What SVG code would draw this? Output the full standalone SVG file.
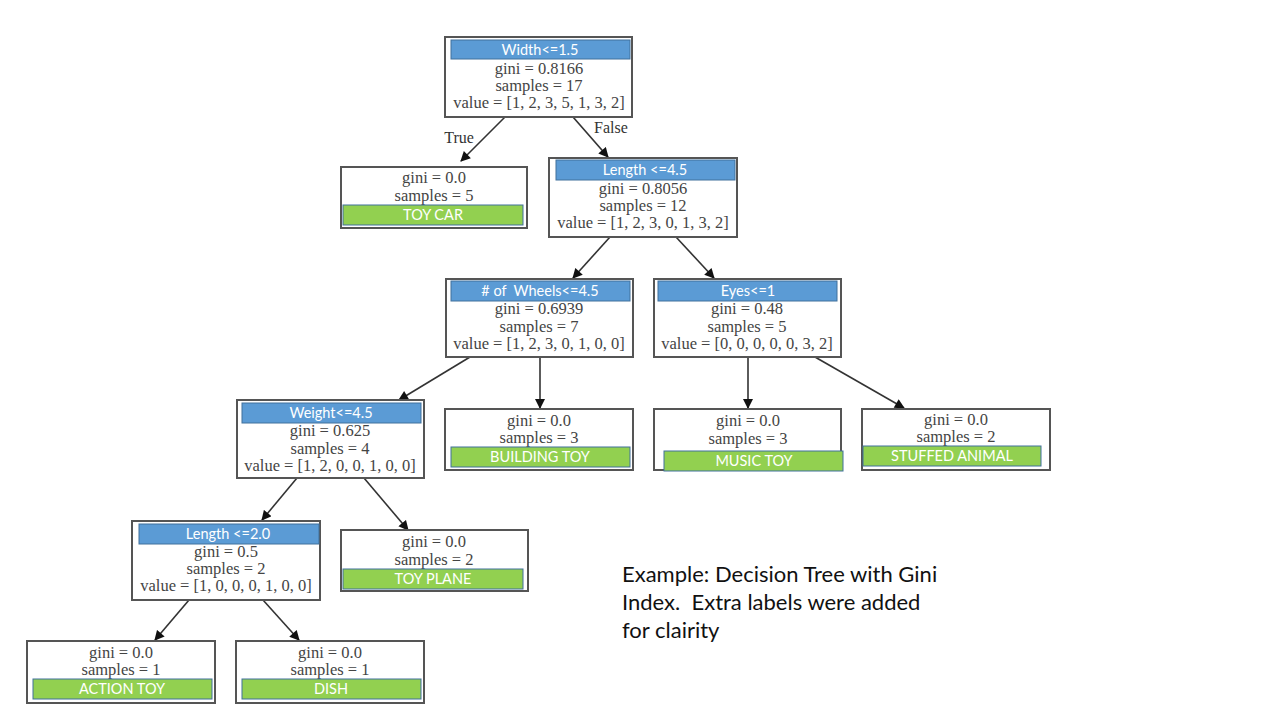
<svg xmlns="http://www.w3.org/2000/svg" width="1280" height="720" viewBox="0 0 1280 720">
<style>
.box{fill:#fff;stroke:#555;stroke-width:2}
.hdr{fill:#5b9bd5;stroke:#41719c;stroke-width:1}
.leaf{fill:#92d050;stroke:#41719c;stroke-width:1}
.t{font-family:"Liberation Serif",serif;font-size:16.5px;fill:#444;text-anchor:middle}
.h{font-family:Lato,"Open Sans",sans-serif;font-size:14.5px;fill:#fff;text-anchor:middle}
.lbl{font-family:"Liberation Serif",serif;font-size:16px;fill:#333;text-anchor:middle}
.cap{font-family:Lato,"Liberation Sans",sans-serif;font-size:22px;fill:#111;white-space:pre}
.e{stroke:#333;stroke-width:1.6;fill:none;marker-end:url(#ah)}
</style>
<defs>
<marker id="ah" viewBox="0 0 10 10" refX="9" refY="5" markerWidth="11" markerHeight="10" orient="auto" markerUnits="userSpaceOnUse">
<path d="M0,0 L10,5 L0,10 z" fill="#111"/>
</marker>
</defs>
<rect width="1280" height="720" fill="#fff"/>
<g id="edges">
<line class="e" x1="505" y1="117" x2="461" y2="161"/>
<line class="e" x1="573" y1="117" x2="608" y2="157"/>
<line class="e" x1="610" y1="237" x2="573" y2="278"/>
<line class="e" x1="676" y1="237" x2="714" y2="278"/>
<line class="e" x1="470" y1="357" x2="399" y2="400"/>
<line class="e" x1="540" y1="357" x2="540" y2="408"/>
<line class="e" x1="748" y1="357" x2="748" y2="408"/>
<line class="e" x1="815" y1="357" x2="904" y2="408"/>
<line class="e" x1="297" y1="478" x2="262" y2="520"/>
<line class="e" x1="364" y1="478" x2="408" y2="530"/>
<line class="e" x1="189" y1="600" x2="155" y2="640"/>
<line class="e" x1="263" y1="600" x2="299" y2="640"/>
<text class="lbl" x="459" y="143">True</text>
<text class="lbl" x="611" y="133">False</text>
</g>
<g id="root">
<rect class="box" x="445" y="37" width="187" height="80"/>
<rect class="hdr" x="451" y="40" width="179" height="19"/>
<text class="h" x="540" y="55">Width&lt;=1.5</text>
<text class="t" x="539" y="74">gini = 0.8166</text>
<text class="t" x="539" y="91">samples = 17</text>
<text class="t" x="539" y="108">value = [1, 2, 3, 5, 1, 3, 2]</text>
</g>
<g id="toycar">
<rect class="box" x="341" y="167" width="186" height="61"/>
<text class="t" x="434" y="183">gini = 0.0</text>
<text class="t" x="434" y="201">samples = 5</text>
<rect class="leaf" x="343" y="205" width="180" height="20"/>
<text class="h" x="433" y="220">TOY CAR</text>
</g>
<g id="length45">
<rect class="box" x="549" y="158" width="188" height="79"/>
<rect class="hdr" x="556" y="160" width="179" height="20"/>
<text class="h" x="645" y="175">Length &lt;=4.5</text>
<text class="t" x="643" y="194">gini = 0.8056</text>
<text class="t" x="643" y="211">samples = 12</text>
<text class="t" x="643" y="228">value = [1, 2, 3, 0, 1, 3, 2]</text>
</g>
<g id="wheels">
<rect class="box" x="446" y="279" width="187" height="78"/>
<rect class="hdr" x="451" y="281" width="179" height="20"/>
<text class="h" x="540" y="296" style="white-space:pre"># of  Wheels&lt;=4.5</text>
<text class="t" x="539" y="314">gini = 0.6939</text>
<text class="t" x="539" y="332">samples = 7</text>
<text class="t" x="539" y="349">value = [1, 2, 3, 0, 1, 0, 0]</text>
</g>
<g id="eyes">
<rect class="box" x="654" y="279" width="187" height="78"/>
<rect class="hdr" x="658" y="281" width="179" height="20"/>
<text class="h" x="748" y="296">Eyes&lt;=1</text>
<text class="t" x="747" y="314">gini = 0.48</text>
<text class="t" x="747" y="332">samples = 5</text>
<text class="t" x="747" y="349">value = [0, 0, 0, 0, 0, 3, 2]</text>
</g>
<g id="weight">
<rect class="box" x="237" y="400" width="187" height="78"/>
<rect class="hdr" x="242" y="403" width="179" height="20"/>
<text class="h" x="331" y="418">Weight&lt;=4.5</text>
<text class="t" x="330" y="436">gini = 0.625</text>
<text class="t" x="330" y="454">samples = 4</text>
<text class="t" x="330" y="471">value = [1, 2, 0, 0, 1, 0, 0]</text>
</g>
<g id="building">
<rect class="box" x="445" y="409" width="188" height="61"/>
<text class="t" x="539" y="426">gini = 0.0</text>
<text class="t" x="539" y="443">samples = 3</text>
<rect class="leaf" x="451" y="447" width="179" height="20"/>
<text class="h" x="540" y="462">BUILDING TOY</text>
</g>
<g id="music">
<rect class="box" x="654" y="409" width="187" height="61"/>
<text class="t" x="748" y="426">gini = 0.0</text>
<text class="t" x="748" y="444">samples = 3</text>
<rect class="leaf" x="664" y="451" width="179" height="20"/>
<text class="h" x="754" y="466">MUSIC TOY</text>
</g>
<g id="stuffed">
<rect class="box" x="862" y="409" width="188" height="61"/>
<text class="t" x="956" y="425">gini = 0.0</text>
<text class="t" x="956" y="442">samples = 2</text>
<rect class="leaf" x="863" y="446" width="178" height="20"/>
<text class="h" x="952" y="461">STUFFED ANIMAL</text>
</g>
<g id="length20">
<rect class="box" x="132" y="521" width="188" height="79"/>
<rect class="hdr" x="139" y="524" width="180" height="20"/>
<text class="h" x="228" y="539">Length &lt;=2.0</text>
<text class="t" x="226" y="557">gini = 0.5</text>
<text class="t" x="226" y="574">samples = 2</text>
<text class="t" x="226" y="591">value = [1, 0, 0, 0, 1, 0, 0]</text>
</g>
<g id="toyplane">
<rect class="box" x="341" y="530" width="187" height="61"/>
<text class="t" x="434" y="547">gini = 0.0</text>
<text class="t" x="434" y="565">samples = 2</text>
<rect class="leaf" x="343" y="569" width="180" height="20"/>
<text class="h" x="433" y="584">TOY PLANE</text>
</g>
<g id="action">
<rect class="box" x="27" y="641" width="188" height="62"/>
<text class="t" x="121" y="658">gini = 0.0</text>
<text class="t" x="121" y="675">samples = 1</text>
<rect class="leaf" x="33" y="679" width="179" height="20"/>
<text class="h" x="122" y="694">ACTION TOY</text>
</g>
<g id="dish">
<rect class="box" x="236" y="641" width="188" height="62"/>
<text class="t" x="330" y="658">gini = 0.0</text>
<text class="t" x="330" y="675">samples = 1</text>
<rect class="leaf" x="242" y="679" width="179" height="20"/>
<text class="h" x="331" y="694">DISH</text>
</g>
<g id="caption">
<text class="cap" x="622" y="582">Example: Decision Tree with Gini</text>
<text class="cap" x="622" y="610">Index.  Extra labels were added</text>
<text class="cap" x="622" y="638">for clairity</text>
</g>
</svg>
